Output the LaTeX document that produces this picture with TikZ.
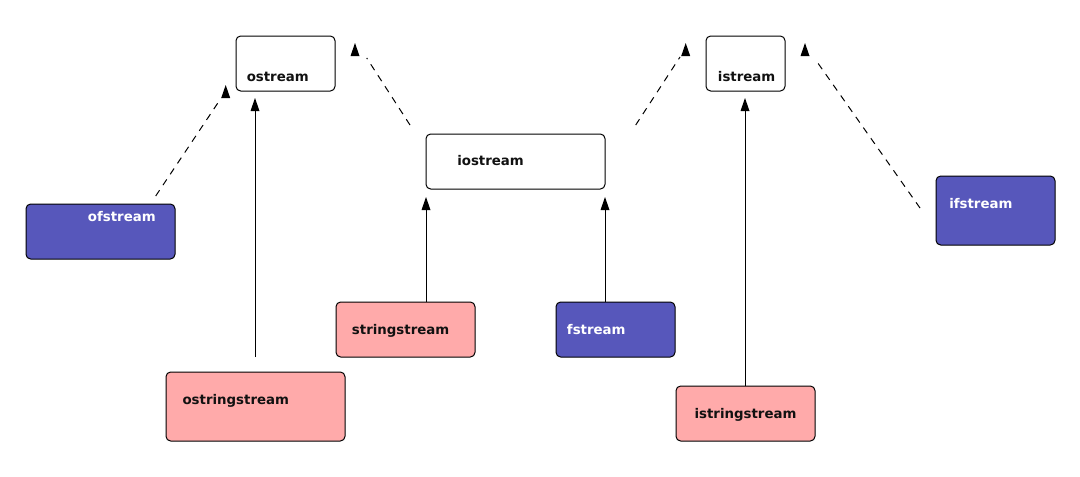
\documentclass[tikz,border=0pt]{standalone}
\usepackage{fontspec}
\setmainfont{DejaVu Sans}
\definecolor{cblue}{RGB}{87,87,187}
\definecolor{cpink}{RGB}{255,170,170}
\definecolor{ctext}{RGB}{17,17,17}
\begin{document}
\begin{tikzpicture}[x=0.75pt,y=-0.75pt,
  box/.style={draw=black,line width=0.75pt,rounded corners=3.5pt,inner sep=0pt,outer sep=0pt,anchor=north west},
  lbl/.style={anchor=base west,inner sep=0pt,font=\fontsize{10}{12}\selectfont\bfseries,text=ctext},
  wlbl/.style={lbl,text=white},
  conn/.style={line width=0.75pt},
  dconn/.style={line width=0.75pt,dash pattern=on 5.2pt off 4.6pt},
  tipfill/.style={fill=black}]
\useasboundingbox (0,0) rectangle (1080,476);
% boxes
\node[box,fill=white,minimum width=74.25pt,minimum height=41.25pt] (ostream) at (236,36) {};
\node[box,fill=white,minimum width=134.25pt,minimum height=41.25pt] (iostream) at (426,134) {};
\node[box,fill=white,minimum width=59.25pt,minimum height=41.25pt] (istream) at (706,36) {};
\node[box,fill=cblue,minimum width=111.75pt,minimum height=41.25pt] (ofstream) at (26,204) {};
\node[box,fill=cblue,minimum width=89.25pt,minimum height=51.75pt] (ifstream) at (936,176) {};
\node[box,fill=cpink,minimum width=104.25pt,minimum height=41.25pt] (stringstream) at (336,302) {};
\node[box,fill=cblue,minimum width=89.25pt,minimum height=41.25pt] (fstream) at (556,302) {};
\node[box,fill=cpink,minimum width=134.25pt,minimum height=51.75pt] (ostringstream) at (166,372) {};
\node[box,fill=cpink,minimum width=104.25pt,minimum height=41.25pt] (istringstream) at (676,386) {};
% labels
\node[lbl] (ostream-t) at (246.5,81.7) {ostream};
\node[lbl] (iostream-t) at (457,165.7) {iostream};
\node[lbl] (istream-t) at (717.7,81.7) {istream};
\node[wlbl] (ofstream-t) at (87.7,221.7) {ofstream};
\node[wlbl] (ifstream-t) at (949,208.3) {ifstream};
\node[lbl] (stringstream-t) at (351.7,334) {stringstream};
\node[wlbl] (fstream-t) at (566.7,334.3) {fstream};
\node[lbl] (ostringstream-t) at (182.3,404) {ostringstream};
\node[lbl] (istringstream-t) at (694.3,418.3) {istringstream};
% connector end points
\coordinate (s1) at (255,357);   \coordinate (e1) at (255,110.5);
\coordinate (s2) at (426,302);   \coordinate (e2) at (426,210);
\coordinate (s3) at (605,302);   \coordinate (e3) at (605,210);
\coordinate (s4) at (745,386);   \coordinate (e4) at (745,110.5);
\coordinate (s5) at (155.7,196); \coordinate (e5) at (220.5,99);
\coordinate (s6) at (410,125);   \coordinate (e6) at (366.7,58);
\coordinate (s7) at (635.7,125); \coordinate (e7) at (680,57);
\coordinate (s8) at (920,208);   \coordinate (e8) at (815,59);
% tips (base centre)
\coordinate (t1) at (255,111);
\coordinate (t2) at (426,210);
\coordinate (t3) at (605,210);
\coordinate (t4) at (745,111);
\coordinate (t5) at (225.7,98);
\coordinate (t6) at (355,56);
\coordinate (t7) at (685.7,56);
\coordinate (t8) at (805,56);
% connectors
\draw[conn] (s1) -- (e1);
\draw[conn] (s2) -- (e2);
\draw[conn] (s3) -- (e3);
\draw[conn] (s4) -- (e4);
\draw[dconn] (s5) -- (e5);
\draw[dconn] (s6) -- (e6);
\draw[dconn] (s7) -- (e7);
\draw[dconn] (s8) -- (e8);
\foreach \t in {t1,t2,t3,t4,t5,t6,t7,t8}{
  \fill[tipfill] (\t) ++(-4.5,0) -- ++(9,0) -- ++(-4.5,-13) -- cycle;
}
\end{tikzpicture}
\end{document}
